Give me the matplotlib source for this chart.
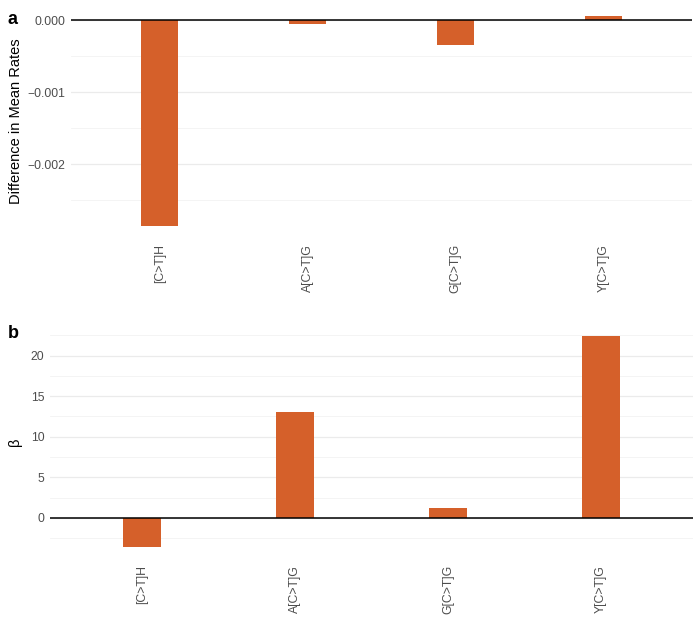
import matplotlib.pyplot as plt
from matplotlib.ticker import MultipleLocator

plt.rcParams['font.family'] = ['Liberation Sans', 'DejaVu Sans']

# data
contexts = ["[C>T]H", "A[C>T]G", "G[C>T]G", "Y[C>T]G"]
mean_rate_diff = [-0.00285, -0.000046, -0.000347, 0.000056]
beta = [-3.54, 13.05, 1.2, 22.35]

bar_color = "#D5602A"
text_grey = "#4D4D4D"

fig = plt.figure(figsize=(7, 6.21), dpi=100)
W, H = 700, 621


def px_axes(left, top, right, bottom):
    return fig.add_axes([left / W, 1 - bottom / H, (right - left) / W, (bottom - top) / H])


def style(ax, vals, major, minor):
    x = range(len(contexts))
    ax.bar(x, vals, width=0.25, color=bar_color, zorder=3)
    ax.axhline(0, color="black", lw=1.1, zorder=4)
    ax.set_xlim(-0.6, len(contexts) - 0.4)
    lo, hi = min(vals), max(vals)
    pad = 0.05 * (hi - lo)
    ax.set_ylim(lo - pad, hi + pad)
    ax.yaxis.set_major_locator(MultipleLocator(major))
    ax.yaxis.set_minor_locator(MultipleLocator(minor))
    ax.grid(which="major", axis="y", color="#EBEBEB", lw=0.9, zorder=0)
    ax.grid(which="minor", axis="y", color="#F3F3F3", lw=0.6, zorder=0)
    ax.set_xticks(list(x))
    ax.set_xticklabels(contexts, rotation=90, fontsize=8.8, color=text_grey)
    ax.tick_params(axis="both", which="both", length=0, pad=6)
    ax.tick_params(axis="y", labelsize=8.8, labelcolor=text_grey, pad=4)
    for s in ax.spines.values():
        s.set_visible(False)


ax1 = px_axes(71, 6, 692, 236)
style(ax1, mean_rate_diff, 0.001, 0.0005)
ax1.yaxis.set_major_formatter(plt.FuncFormatter(lambda v, p: f"{v:.3f}".replace("-", "\u2212") if abs(v) > 1e-12 else "0.000"))
ax1.set_ylabel("Difference in Mean Rates", fontsize=10.5, labelpad=3)
fig.text(8 / W, 1 - 19 / H, "a", fontsize=13, fontweight="bold", va="center")

ax2 = px_axes(50, 326, 693, 557)
style(ax2, beta, 5, 2.5)
ax2.set_ylabel("β", fontsize=10.5, labelpad=6)
fig.text(8 / W, 1 - 333 / H, "b", fontsize=13, fontweight="bold", va="center")

fig.savefig("out.png", dpi=100)
